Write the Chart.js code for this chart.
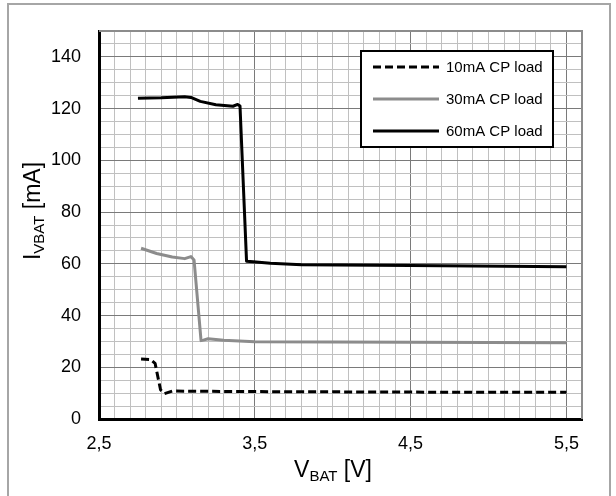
<!DOCTYPE html>
<html>
<head>
<meta charset="utf-8">
<script src="https://cdn.jsdelivr.net/npm/chart.js@4"></script>
<style>
  html, body { margin: 0; padding: 0; background: #fff; overflow: hidden; }
  #frame { position: absolute; left: 7px; top: 3px; width: 604px; height: 600px; border: 2px solid #a6a6a6; box-sizing: border-box; }
  #wrap { position: absolute; left: 0; top: 0; width: 616px; height: 496px; }
</style>
</head>
<body>
<div id="frame"></div>
<div id="wrap"><canvas id="chart"></canvas></div>
<script>
// data
const vbat10 = [2.77, 2.83, 2.86, 2.895, 2.92, 2.97, 3.2, 3.5, 4.0, 4.5, 5.0, 5.5];
const ibat10 = [23.2, 23.0, 21.5, 11.3, 9.8, 10.8, 10.7, 10.6, 10.5, 10.4, 10.3, 10.3];

const vbat30 = [2.77, 2.87, 2.97, 3.05, 3.09, 3.11, 3.155, 3.17, 3.2, 3.3, 3.5, 4.0, 4.5, 5.0, 5.5];
const ibat30 = [66.0, 64.0, 62.6, 62.0, 62.8, 61.5, 30.3, 30.5, 31.0, 30.4, 29.9, 29.8, 29.7, 29.6, 29.5];

const vbat60 = [2.75, 2.9, 3.05, 3.09, 3.15, 3.25, 3.36, 3.39, 3.405, 3.447, 3.49, 3.6, 3.8, 4.5, 5.5];
const ibat60 = [124.0, 124.2, 124.6, 124.3, 122.8, 121.5, 120.9, 121.6, 121.0, 61.0, 60.8, 60.2, 59.6, 59.3, 58.9];

const seriesNames = ['10mA CP load', '30mA CP load', '60mA CP load'];
const xTickLabels = [2.5, 3.5, 4.5, 5.5];
const yTickLabels = [0, 20, 40, 60, 80, 100, 120, 140];

function pts(xs, ys) {
  return xs.map((x, i) => ({ x: x, y: ys[i] }));
}

const FONT = 'Liberation Sans, Arial, sans-serif';

// frame lines, axis titles with subscripts, legend box
const extras = {
  id: 'extras',
  afterDatasetsDraw(chart) {
    const c = chart.ctx;
    const a = chart.chartArea;
    c.save();
    // top and right plot edges
    c.strokeStyle = '#8c8c8c';
    c.lineWidth = 2;
    c.beginPath();
    c.moveTo(a.left, a.top);
    c.lineTo(a.right, a.top);
    c.lineTo(a.right, a.bottom);
    c.stroke();

    // legend
    const lx = 361, ly = 51, lw = 192, lh = 96;
    c.fillStyle = '#fff';
    c.fillRect(lx, ly, lw, lh);
    c.strokeStyle = '#000';
    c.lineWidth = 2;
    c.strokeRect(lx, ly, lw, lh);
    chart.data.datasets.forEach((ds, i) => {
      const yy = ly + 16 + i * 32;
      c.strokeStyle = ds.borderColor;
      c.lineWidth = 3;
      c.setLineDash(ds.borderDash || []);
      c.beginPath();
      c.moveTo(lx + 12, yy);
      c.lineTo(lx + 78, yy);
      c.stroke();
      c.setLineDash([]);
      c.fillStyle = '#000';
      c.font = '15px ' + FONT;
      c.textBaseline = 'middle';
      c.textAlign = 'left';
      c.fillText(ds.label, lx + 85, yy + 1);
    });
    c.restore();
  },
  afterDraw(chart) {
    const c = chart.ctx;
    c.save();
    c.fillStyle = '#000';
    c.textBaseline = 'alphabetic';
    c.textAlign = 'left';
    // x title
    drawSub(c, 'V', 'BAT', ' [V]', 333, 477);
    // y title
    c.translate(40, 211);
    c.rotate(-Math.PI / 2);
    drawSub(c, 'I', 'VBAT', ' [mA]', 0, 0);
    c.restore();
  }
};

function drawSub(c, main, sub, rest, cx, base) {
  c.font = '23px ' + FONT;
  const w1 = c.measureText(main).width;
  const w3 = c.measureText(rest).width;
  c.font = '15px ' + FONT;
  const w2 = c.measureText(sub).width;
  let x = cx - (w1 + w2 + w3) / 2;
  c.font = '23px ' + FONT;
  c.fillText(main, x, base);
  x += w1;
  c.font = '15px ' + FONT;
  c.fillText(sub, x, base + 4);
  x += w2;
  c.font = '23px ' + FONT;
  c.fillText(rest, x, base);
}

const data = {
  datasets: [{
    label: seriesNames[0],
    data: pts(vbat10, ibat10),
    borderColor: '#000000',
    borderDash: [8, 4],
    borderWidth: 3,
    pointRadius: 0,
    tension: 0
  }, {
    label: seriesNames[1],
    data: pts(vbat30, ibat30),
    borderColor: '#8c8c8c',
    borderWidth: 3,
    pointRadius: 0,
    tension: 0
  }, {
    label: seriesNames[2],
    data: pts(vbat60, ibat60),
    borderColor: '#000000',
    borderWidth: 3,
    pointRadius: 0,
    tension: 0
  }]
};

const config = {
  type: 'line',
  data: data,
  options: {
    responsive: false,
    animation: false,
    layout: { padding: { left: 0, top: 31, right: 34, bottom: 0 } },
    plugins: { legend: { display: false }, tooltip: { enabled: false } },
    elements: { line: { borderJoinStyle: 'round', borderCapStyle: 'butt' } },
    scales: {
      x: {
        type: 'linear',
        min: 2.5,
        max: 5.6,
        afterFit(s) { s.height = 77; },
        border: { color: '#000', width: 3 },
        grid: {
          drawTicks: false,
          color(ctx) {
            const n = Math.round(ctx.tick.value * 10);
            return (n - 25) % 10 === 0 ? '#7a7a7a' : '#c0c0c0';
          }
        },
        ticks: {
          stepSize: 0.1,
          autoSkip: false,
          maxRotation: 0,
          padding: 14,
          color: '#000',
          font: { family: FONT, size: 18 },
          callback(v) {
            const hit = xTickLabels.find(t => Math.abs(t - v) < 1e-6);
            return hit === undefined ? '' : hit.toFixed(1).replace('.', ',');
          }
        }
      },
      y: {
        min: 0,
        max: 150,
        afterFit(s) { s.width = 99; },
        border: { color: '#000', width: 3 },
        grid: {
          drawTicks: false,
          color(ctx) {
            const v = Math.round(ctx.tick.value);
            return v % 20 === 0 ? '#7a7a7a' : '#c0c0c0';
          }
        },
        ticks: {
          stepSize: 5,
          autoSkip: false,
          padding: 18,
          color: '#000',
          font: { family: FONT, size: 18 },
          callback(v) {
            return yTickLabels.includes(Math.round(v)) && Math.abs(v - Math.round(v)) < 1e-6 ? String(Math.round(v)) : '';
          }
        }
      }
    }
  },
  plugins: [extras]
};

const cv = document.getElementById('chart');
cv.width = 616;
cv.height = 496;
new Chart(cv, config);
</script>
</body>
</html>
